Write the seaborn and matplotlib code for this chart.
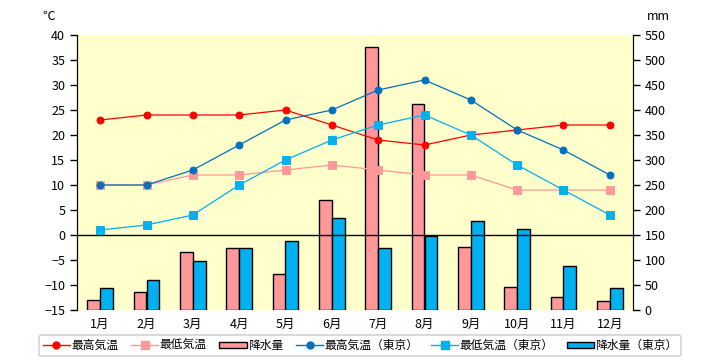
import seaborn as sns
import matplotlib.pyplot as plt
import pandas as pd
from matplotlib.lines import Line2D
from matplotlib.patches import Patch

# Data
months = ['1月', '2月', '3月', '4月', '5月', '6月', '7月', '8月', '9月', '10月', '11月', '12月']
high_temp = [23, 24, 24, 24, 25, 22, 19, 18, 20, 21, 22, 22]
low_temp = [10, 10, 12, 12, 13, 14, 13, 12, 12, 9, 9, 9]
rain = [21, 37, 117, 125, 73, 221, 527, 413, 127, 47, 27, 19]
high_tokyo = [10, 10, 13, 18, 23, 25, 29, 31, 27, 21, 17, 12]
low_tokyo = [1, 2, 4, 10, 15, 19, 22, 24, 20, 14, 9, 4]
rain_tokyo = [45, 60, 99, 125, 138, 185, 125, 148, 179, 163, 89, 45]

names = ['最高気温', '最低気温', '降水量', '最高気温（東京）', '最低気温（東京）', '降水量（東京）']

RED = '#FF0000'
PINK = '#FF9999'
BLUE = '#0070C0'
CYAN = '#00B0F0'
BG = '#FFFFCC'

plt.rcParams['font.family'] = ['Noto Sans CJK JP', 'DejaVu Sans']
plt.rcParams['font.size'] = 9

fig = plt.figure(figsize=(7.2, 3.6), dpi=100)
ax = fig.add_axes([77 / 720, 1 - 310 / 360, (633 - 77) / 720, 275 / 360])
ax2 = ax.twinx()

# Bars on the precipitation axis
df_bar = pd.DataFrame({
    'month': months * 2,
    'mm': rain + rain_tokyo,
    'series': [names[2]] * 12 + [names[5]] * 12,
})
sns.barplot(data=df_bar, x='month', y='mm', hue='series', palette=[PINK, CYAN],
            saturation=1, edgecolor='black', linewidth=1, width=0.56,
            legend=False, ax=ax)
ax.set_facecolor(BG)
ax.set_ylim(0, 550)
ax.set_yticks(range(0, 551, 50))
ax.yaxis.tick_right()
ax.set_xlabel('')
ax.set_ylabel('')

# Lines on the temperature axis
lines = [
    (high_temp, RED, 'o', 5),
    (low_temp, PINK, 's', 5.5),
    (high_tokyo, BLUE, 'o', 5),
    (low_tokyo, CYAN, 's', 5.5),
]
for vals, color, mk, ms in lines:
    sns.pointplot(x=months, y=vals, color=color, markers=mk, markersize=ms,
                  linewidth=0.9, ax=ax2)
ax2.axhline(0, color='black', linewidth=1, zorder=1)
ax2.set_ylim(-15, 40)
ax2.set_yticks(range(-15, 41, 5))
ax2.yaxis.set_ticks_position('left')
ax2.set_xlim(-0.5, 11.5)
ax2.set_xlabel('')
ax2.set_ylabel('')
ax2.patch.set_visible(False)

for a in (ax, ax2):
    a.spines['top'].set_visible(False)
    a.spines['bottom'].set_visible(False)
    a.spines['left'].set_color('black')
    a.spines['right'].set_color('black')
    a.tick_params(axis='y', direction='out', length=5, width=1, colors='black', labelsize=9)
ax.tick_params(axis='x', length=0, pad=6, labelsize=9)

fig.text(49 / 720, 1 - 16 / 360, '℃', fontsize=9, ha='center', va='center')
fig.text(658 / 720, 1 - 16 / 360, 'mm', fontsize=9, ha='center', va='center')

handles = [
    Line2D([], [], color=RED, marker='o', markersize=5, linewidth=1),
    Line2D([], [], color=PINK, marker='s', markersize=5.5, linewidth=1),
    Patch(facecolor=PINK, edgecolor='black', linewidth=1),
    Line2D([], [], color=BLUE, marker='o', markersize=5, linewidth=1),
    Line2D([], [], color=CYAN, marker='s', markersize=5.5, linewidth=1),
    Patch(facecolor=CYAN, edgecolor='black', linewidth=1),
]
leg = fig.legend(handles, names, loc='center', bbox_to_anchor=(360 / 720, 1 - 345.5 / 360),
                 ncol=6, fontsize=8.5, frameon=True, fancybox=True, handlelength=2.3,
                 handleheight=0.45, handletextpad=0.1, columnspacing=1.1,
                 borderpad=0.35, borderaxespad=0)
leg.get_frame().set_edgecolor('#C8C8C8')
leg.get_frame().set_linewidth(1.2)

fig.savefig('out.png', dpi=100)
